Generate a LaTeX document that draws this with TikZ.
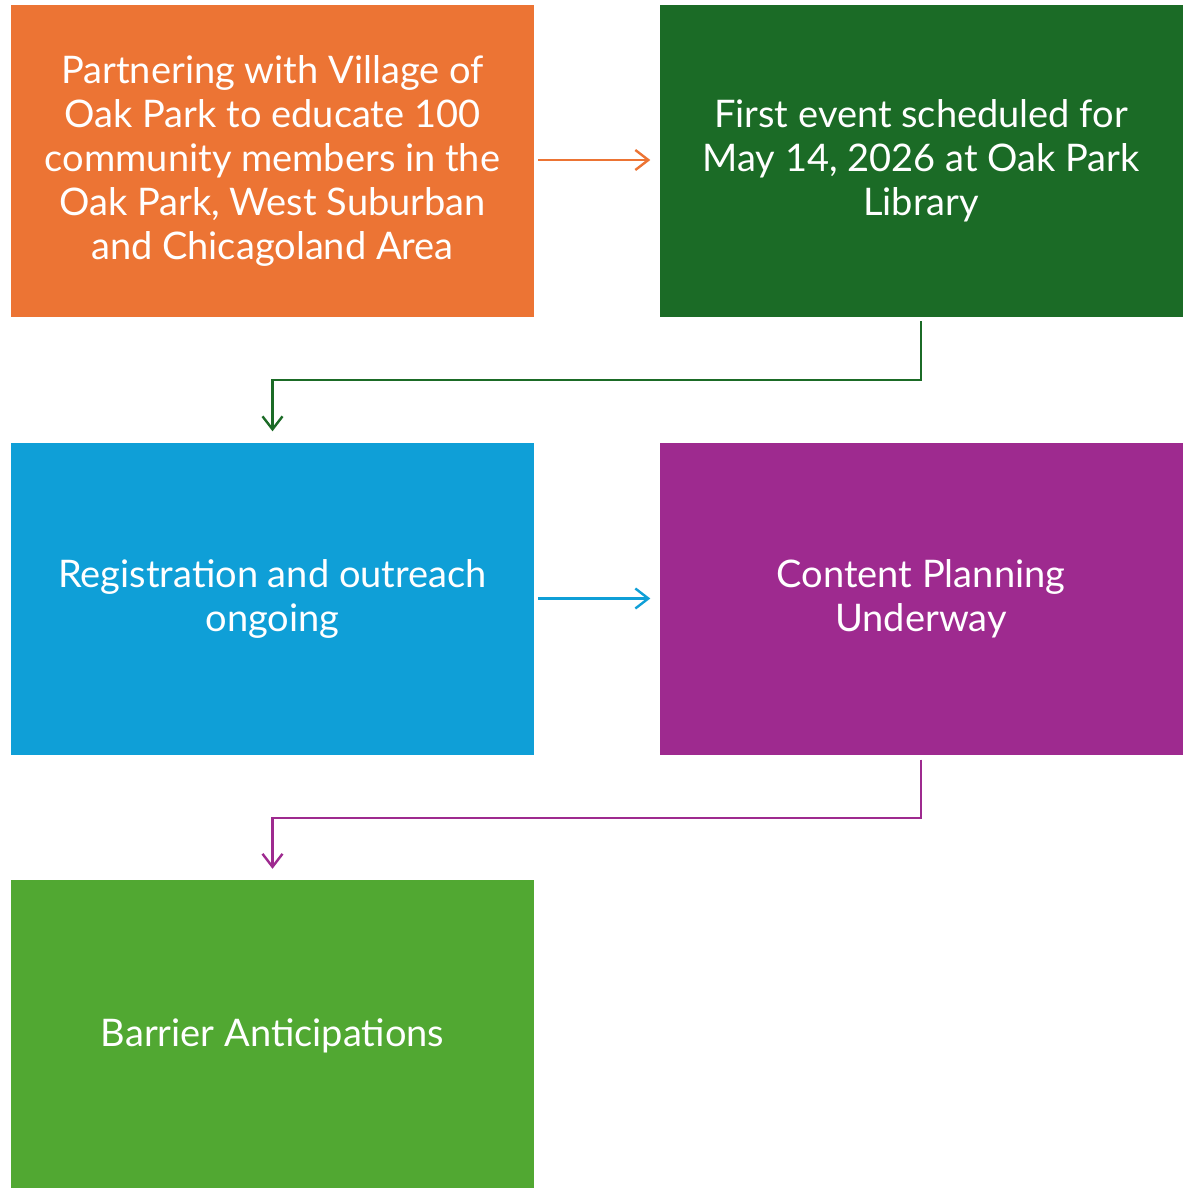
\documentclass[tikz,border=0pt]{standalone}
\usepackage{fontspec}
\setmainfont{Lato}
\usetikzlibrary{arrows.meta}

\definecolor{stepOrange}{HTML}{EC7434}
\definecolor{stepDark}{HTML}{1B6B26}
\definecolor{stepBlue}{HTML}{0F9FD7}
\definecolor{stepPurple}{HTML}{9E2A8F}
\definecolor{stepGreen}{HTML}{51A832}

\tikzset{
  box/.style={minimum width=523pt,minimum height=312pt,inner sep=0pt,
    text=white,align=center,font=\fontsize{38}{44}\selectfont},
  flow/.style={line width=2.4pt,-{Straight Barb[length=13pt,width=20pt]}}
}

\begin{document}
\begin{tikzpicture}[x=1pt,y=-1pt]
          \useasboundingbox (0,0) rectangle (1191,1188);
          \fill[white] (0,0) rectangle (1191,1188);
          % boxes
          \node[box,fill=stepOrange] (P) at (272.5,161) {Partnering with Village of\\Oak Park to educate 100\\community members in the\\Oak Park, West Suburban\\and Chicagoland Area};
          \node[box,fill=stepDark] (F) at (921,161) {First event scheduled for\\May 14, 2026 at Oak Park\\Library};
          \node[box,fill=stepBlue] (R) at (272.5,598.5) {Registration and outreach\\ongoing};
          \node[box,fill=stepPurple] (C) at (921,598.5) {Content Planning\\Underway};
          \node[box,fill=stepGreen] (B) at (272.5,1036) {Barrier Anticipations};
          % connectors
          \draw[flow,stepOrange] ([xshift=4pt,yshift=1pt]P.east) -- ([xshift=-9pt,yshift=1pt]F.west);
          \draw[flow,stepDark] ([yshift=-4pt]F.south) -- ++(0,59) -| ([yshift=11pt]R.north);
          \draw[flow,stepBlue] ([xshift=4pt]R.east) -- ([xshift=-9pt]C.west);
          \draw[flow,stepPurple] ([yshift=-5pt]C.south) -- ++(0,58) -| ([yshift=11pt]B.north);
        \end{tikzpicture}
\end{document}
